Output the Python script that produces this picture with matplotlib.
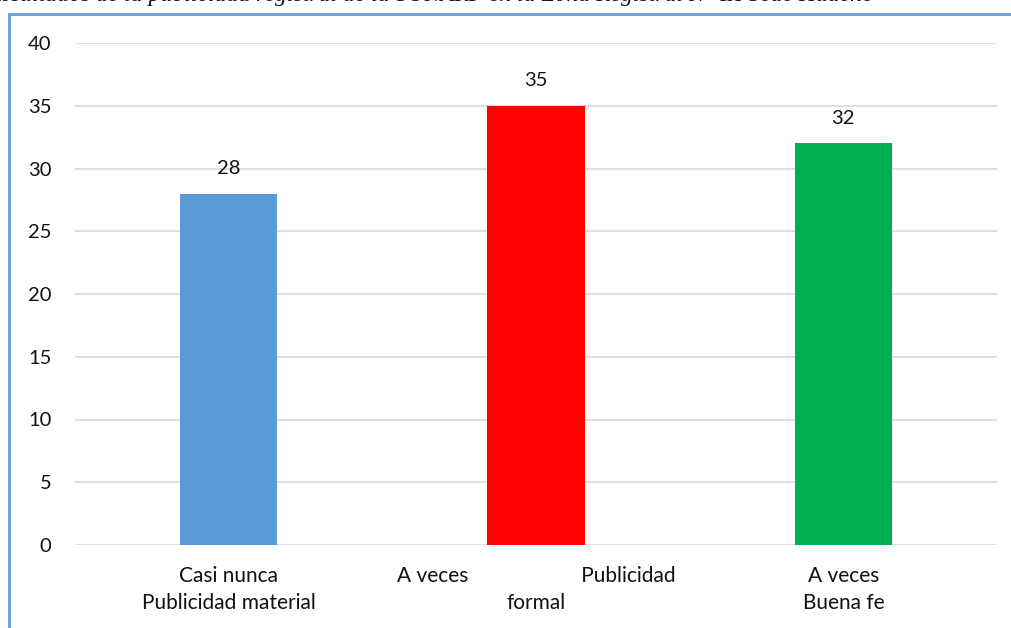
import matplotlib
matplotlib.use("Agg")
import matplotlib.pyplot as plt
from matplotlib.patches import Rectangle

categories = ["Casi nunca\nPublicidad material",
              "A veces                     Publicidad\nformal",
              "A veces\nBuena fe"]
values = [28, 35, 32]
colors = ["#5B9BD5", "#FF0000", "#00B050"]
yticks = [0, 5, 10, 15, 20, 25, 30, 35, 40]
title_text = "Resultados de la publicidad registral de la SUNARP en la Zona Registral N° IX Sede Huacho"

W, H = 1012, 628
fig = plt.figure(figsize=(W / 100, H / 100), dpi=100)
fig.patch.set_facecolor("white")

# chart frame (light blue border, cut off on right/bottom)
frame = Rectangle((9.5 / W, -0.1), 1.2, (H - 14) / H + 0.1, transform=fig.transFigure,
                  fill=False, edgecolor="#6FA3DA", linewidth=2.2, zorder=0)
fig.patches.append(frame)

# title, mostly cut off at the top edge as in the reference
fig.text(-14 / W, 1 - 0.5 / H, title_text, ha="left", va="baseline",
         family="Liberation Serif", style="italic", fontsize=17, color="#111111")

ax = fig.add_axes([75 / W, (H - 545) / H, (997 - 75) / W, (545 - 43) / H])
x = list(range(len(categories)))
bars = ax.bar(x, values, width=0.316, color=colors, zorder=3)
ax.set_xlim(-0.5, len(categories) - 0.5)
ax.set_ylim(0, 40)
ax.set_yticks(yticks)
ax.set_yticklabels([str(t) for t in yticks], family="Lato", fontsize=14.5, color="#111111")
ax.set_xticks(x)
ax.set_xticklabels(categories, family="Lato", fontsize=15, color="#111111", linespacing=1.45)
ax.tick_params(axis="both", length=0)
ax.tick_params(axis="y", pad=17)
ax.tick_params(axis="x", pad=15)
ax.grid(axis="y", color="#D9D9D9", linewidth=1.2, zorder=0)
for s in ax.spines.values():
    s.set_visible(False)
ax.set_facecolor("none")

for b, v in zip(bars, values):
    ax.annotate(str(v), (b.get_x() + b.get_width() / 2, v), xytext=(0, 12),
                textcoords="offset points", ha="center", va="bottom",
                family="Lato", fontsize=14.5, color="#111111")

fig.savefig("out.png", dpi=100)
